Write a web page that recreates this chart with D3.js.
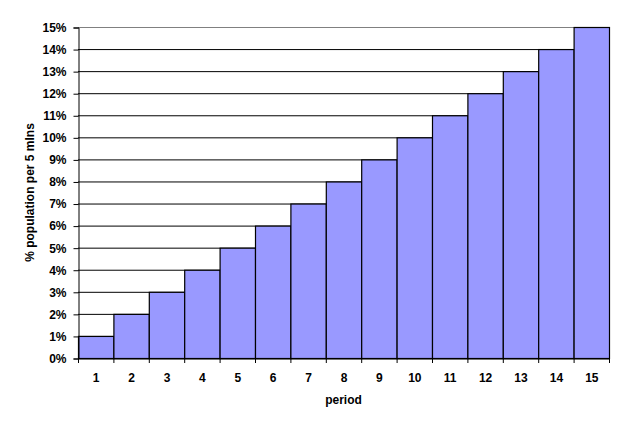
<!DOCTYPE html>
<html><head><meta charset="utf-8">
<script src="https://cdn.jsdelivr.net/npm/d3@7"></script>
<style>
body{margin:0;background:#fff;}
text{font-family:"Liberation Sans",Arial,sans-serif;font-weight:bold;font-size:12px;fill:#000;}
</style></head>
<body><svg width="624" height="428"></svg>
<script>
const periods = [1,2,3,4,5,6,7,8,9,10,11,12,13,14,15];
const values = [1,2,3,4,5,6,7,8,9,10,11,12,13,14,15];
const yTicks = [0,1,2,3,4,5,6,7,8,9,10,11,12,13,14,15];

const svg = d3.select("svg");
const L=78, R=609, T=27, B=358;
const x = d3.scaleBand().domain(periods).range([L,R]).padding(0);
const y = d3.scaleLinear().domain([0,15]).range([B,T]);

// gridlines
svg.append("g").selectAll("line").data(yTicks.filter(d=>d>0)).join("line")
  .attr("x1",L).attr("x2",R).attr("y1",d=>y(d)+0.5).attr("y2",d=>y(d)+0.5)
  .attr("stroke",d=>d===15?"#808080":"#000").attr("stroke-width",1);

// bars
svg.append("g").selectAll("rect").data(values).join("rect")
  .attr("x",(d,i)=>x(periods[i])+0.5).attr("y",d=>y(d)+0.5)
  .attr("width",x.bandwidth()).attr("height",d=>B-y(d))
  .attr("fill","#9999ff").attr("stroke","#000").attr("stroke-width",1.2);

// y axis
const ya = svg.append("g").attr("transform",`translate(${L+0.5},0.5)`)
  .call(d3.axisLeft(y).tickValues(yTicks).tickFormat(d=>d+"%").tickSize(5).tickPadding(7));
ya.select(".domain").attr("stroke","#000");
ya.selectAll(".tick line").attr("stroke","#000");
ya.selectAll("text").style("font-size","12px");

// x axis
const xa = svg.append("g").attr("transform",`translate(0.5,${B+0.5})`)
  .call(d3.axisBottom(x).tickSize(0).tickPadding(15));
xa.select(".domain").attr("stroke","#000");
xa.selectAll(".tick line").remove();
xa.selectAll("text").style("font-size","12px");
svg.append("g").selectAll("line").data(d3.range(16)).join("line")
  .attr("x1",i=>L+i*x.step()+0.5).attr("x2",i=>L+i*x.step()+0.5)
  .attr("y1",B).attr("y2",B+5).attr("stroke","#000");

svg.append("text").attr("x",(L+R)/2).attr("y",404).attr("text-anchor","middle").text("period");
svg.append("text").attr("transform",`translate(34,${(T+B)/2}) rotate(-90)`)
  .attr("text-anchor","middle").text("% population per 5 mlns");
</script></body></html>
